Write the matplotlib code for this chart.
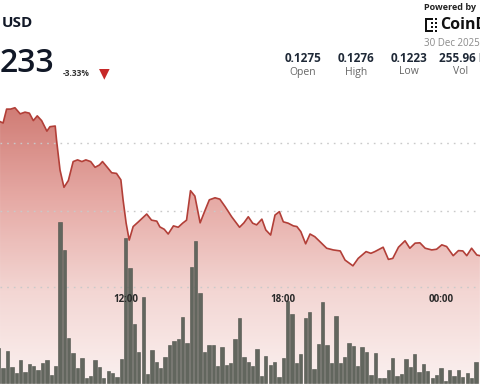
import numpy as np
import matplotlib
matplotlib.use("Agg")
import matplotlib.pyplot as plt
from matplotlib.colors import LinearSegmentedColormap
from matplotlib.patches import Rectangle

# price line (time of day, price)
line_times = [
    "07:13", "07:20", "07:28", "07:37", "07:47", "07:59", "08:10", "08:20", "08:29", "08:38",
    "08:48", "09:00", "09:07", "09:19", "09:22", "09:30", "09:39", "09:49", "10:00", "10:10",
    "10:20", "10:29", "10:40", "10:50", "11:00", "11:07", "11:18", "11:28", "11:39", "11:49",
    "11:54", "12:01", "12:08", "12:17", "12:29", "12:48", "12:59", "13:11", "13:18", "13:28",
    "13:37", "13:49", "14:00", "14:10", "14:19", "14:28", "14:38", "14:50", "15:00", "15:11",
    "15:24", "15:35", "15:47", "16:02", "16:20", "16:30", "16:40", "16:50", "16:59", "17:11",
    "17:20", "17:31", "17:41", "17:51", "18:00", "18:11", "18:23", "18:31", "18:40", "18:51",
    "19:01", "19:12", "19:24", "19:39", "19:54", "20:10", "20:21", "20:39", "20:51", "21:09",
    "21:20", "21:29", "21:48", "22:00", "22:10", "22:23", "22:38", "22:49", "23:01", "23:12",
    "23:24", "23:39", "23:50", "00:02", "00:13", "00:28", "00:40", "00:50", "00:59", "01:10",
    "01:22", "01:29",
]
line_prices = [
    0.12714, 0.12710, 0.12751, 0.12751, 0.12755, 0.12737, 0.12742, 0.12739, 0.12717, 0.12731,
    0.12717, 0.12686, 0.12699, 0.12701, 0.12660, 0.12571, 0.12520, 0.12540, 0.12596, 0.12601,
    0.12596, 0.12601, 0.12596, 0.12579, 0.12586, 0.12596, 0.12579, 0.12563, 0.12561, 0.12542,
    0.12483, 0.12414, 0.12364, 0.12404, 0.12418, 0.12441, 0.12423, 0.12420, 0.12403, 0.12396,
    0.12382, 0.12406, 0.12402, 0.12414, 0.12423, 0.12510, 0.12494, 0.12415, 0.12448, 0.12483,
    0.12489, 0.12485, 0.12463, 0.12433, 0.12402, 0.12415, 0.12433, 0.12414, 0.12409, 0.12426,
    0.12394, 0.12379, 0.12438, 0.12448, 0.12418, 0.12414, 0.12406, 0.12404, 0.12389, 0.12353,
    0.12382, 0.12374, 0.12359, 0.12340, 0.12335, 0.12332, 0.12305, 0.12288, 0.12310, 0.12330,
    0.12325, 0.12330, 0.12343, 0.12307, 0.12310, 0.12343, 0.12362, 0.12340, 0.12355, 0.12356,
    0.12340, 0.12335, 0.12337, 0.12350, 0.12345, 0.12318, 0.12333, 0.12332, 0.12318, 0.12340,
    0.12320, 0.12318,
]

# 10-minute volume bars (millions), first bar at 07:10
vol_start = "07:10"
volumes = [
    2.21, 0.92, 2.00, 1.02, 0.61, 1.42, 0.71, 1.21, 1.06, 0.81,
    1.23, 1.42, 0.50, 1.08, 10.08, 8.31, 2.79, 1.86, 0.92, 1.58,
    0.29, 0.46, 1.44, 1.02, 0.29, 0.75, 0.61, 0.39, 1.52, 9.08,
    7.21, 3.69, 1.96, 5.39, 0.54, 2.06, 1.29, 0.92, 1.61, 2.38,
    2.63, 2.73, 4.11, 2.48, 7.27, 8.88, 5.64, 1.92, 2.38, 2.38,
    1.06, 2.27, 1.13, 1.23, 2.73, 4.04, 1.64, 1.33, 1.08, 2.11,
    0.44, 1.69, 1.13, 1.29, 0.39, 1.54, 5.13, 4.31, 1.23, 1.79,
    4.09, 4.42, 0.86, 2.46, 5.06, 2.39, 1.27, 4.21, 1.23, 1.64,
    2.48, 2.33, 1.06, 2.27, 1.96, 0.50, 1.89, 0.29, 0.29, 0.81,
    1.58, 0.44, 0.56, 1.52, 1.02, 1.79, 0.71, 1.17, 0.77, 0.29,
    0.50, 0.92, 0.14, 0.81, 0.44, 0.81, 0.36, 0.64, 0.29, 1.33,
]

tick_hours = [12, 18, 24]
tick_labels = ["12:00", "18:00", "00:00"]
grid_prices = [0.1265, 0.1245, 0.12225]

pair_label = "USD"
last_price = "233"
change_label = "-3.33%"
stat_values = ["0.1275", "0.1276", "0.1223", "255.96 M"]
stat_names = ["Open", "High", "Low", "Vol"]
date_label = "30 Dec 2025"


def to_hours(s):
    hh, mm = s.split(":")
    h = int(hh) + int(mm) / 60
    if h < 6:
        h += 24
    return h


x_line = np.array([to_hours(t) for t in line_times])
y_line = np.array(line_prices)
assert len(x_line) == len(y_line)
x_bar = to_hours(vol_start) + np.arange(len(volumes)) / 6
vols = np.array(volumes)

W, H = 480, 384
fig = plt.figure(figsize=(W / 100, H / 100), dpi=100)
fig.patch.set_facecolor("white")
plt.rcParams["font.family"] = ["Open Sans", "DejaVu Sans"]

xmin, xmax = 7.215, 25.487
pmin, pmax = 0.119389, 0.130733

ax = fig.add_axes([0, 0, 1, 1])
ax.set_xlim(xmin, xmax)
ax.set_ylim(pmin, pmax)
ax.axis("off")

# gradient under the line
cmap = LinearSegmentedColormap.from_list(
    "fade", ["#fbf1f0", "#f3d6d3", "#e6aaa5", "#d07c75"])
grad = np.linspace(0, 1, 256).reshape(-1, 1)
top = y_line.max()
im = ax.imshow(grad, extent=[xmin, xmax, pmin, top], origin="lower",
               aspect="auto", cmap=cmap, zorder=1)
poly = ax.fill_between(x_line, y_line, pmin, facecolor="none", edgecolor="none")
im.set_clip_path(poly.get_paths()[0], transform=ax.transData)
ax.set_xlim(xmin, xmax)
ax.set_ylim(pmin, pmax)

for g in grid_prices:
    ax.axhline(g, color="#c9c9c9", lw=1.0, ls=(0, (1.2, 3.6)), zorder=2)

ax.plot(x_line, y_line, color="#b23f38", lw=1.2, zorder=5,
        solid_joinstyle="round")

# volume bars
ax2 = ax.twinx()
ax2.set_xlim(xmin, xmax)
ax2.set_ylim(-1 / 16, 383 / 16)
ax2.axis("off")
ax2.bar(x_bar, vols, width=(1 / 6) * 0.76, color="#62665e",
        edgecolor="#4e524b", lw=0.4, zorder=3)

for h, lab in zip(tick_hours, tick_labels):
    ax2.text(h, 1 - 300 / H, lab, transform=ax2.get_xaxis_transform(),
             ha="center", va="center", fontsize=7, fontweight="bold",
             color="#2a2a2a", zorder=10)


# header
def fx(px):
    return px / W


def fy(py):
    return 1 - py / H


fig.text(fx(33), fy(23), pair_label, ha="right", va="center",
         fontsize=11, fontweight="bold", color="#111827")
fig.text(fx(54), fy(63), last_price, ha="right", va="center",
         fontsize=23, fontweight="semibold", color="#111827")
fig.text(fx(63), fy(73), change_label, ha="left", va="center",
         fontsize=6, fontweight="bold", color="#333333")
fig.text(fx(104), fy(73), "\u25BC", ha="center", va="center",
         fontsize=10, color="#c62828", family="DejaVu Sans")

centers = [303, 356, 409, 439]
for i, (v, n) in enumerate(zip(stat_values, stat_names)):
    if i < 3:
        fig.text(fx(centers[i]), fy(58), v, ha="center", va="center",
                 fontsize=8.5, fontweight="bold", color="#1f2937")
        fig.text(fx(centers[i]), fy(72), n, ha="center", va="center",
                 fontsize=7.5, color="#666666")
    else:
        fig.text(fx(centers[i]), fy(58), v, ha="left", va="center",
                 fontsize=8.5, fontweight="bold", color="#1f2937")
        fig.text(fx(461), fy(72), n, ha="center", va="center",
                 fontsize=7.5, color="#666666")

fig.text(fx(424), fy(7), "Powered by", ha="left", va="center",
         fontsize=6.5, fontweight="bold", color="#222222")
fig.text(fx(440), fy(25), "CoinDesk", ha="left", va="center",
         fontsize=11.5, fontweight="bold", color="#111111")
fig.text(fx(424), fy(43), date_label, ha="left", va="center",
         fontsize=7, color="#8a8a8a")

# little logo mark
for (px, py, w, h) in [(425, 18, 2, 14), (425, 18, 8, 2), (425, 30, 8, 2),
                       (431, 22, 2, 2), (435, 22, 2, 2), (431, 26, 2, 2),
                       (435, 26, 2, 2), (435, 18, 2, 2), (435, 30, 2, 2)]:
    fig.add_artist(Rectangle((fx(px), fy(py + h)), w / W, h / H,
                             transform=fig.transFigure, color="#111111", lw=0))

fig.savefig("out.png", dpi=100)
